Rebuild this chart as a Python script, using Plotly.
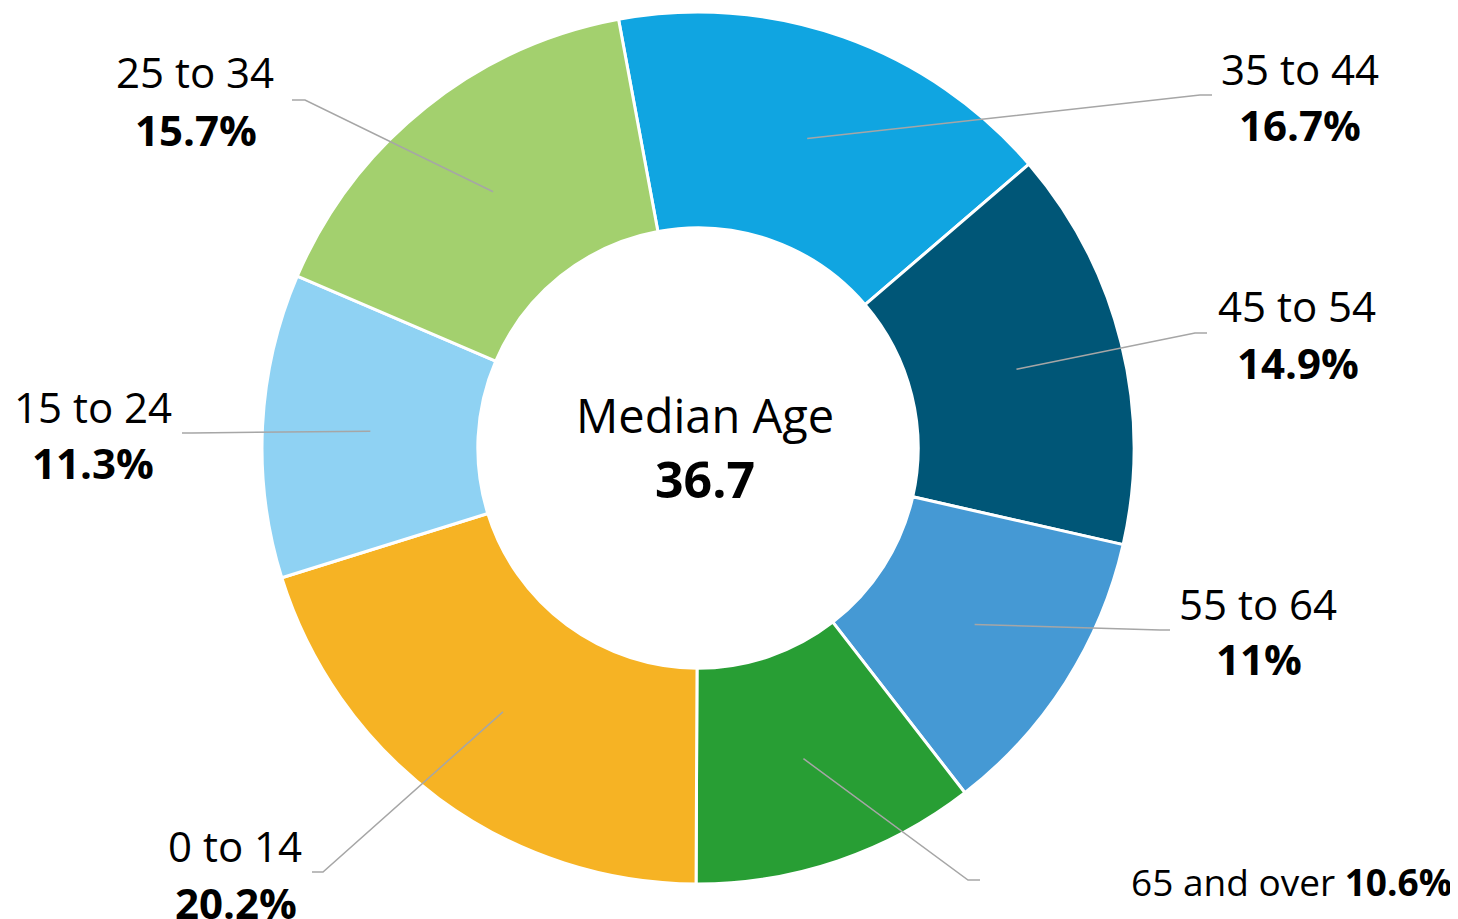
import math
import plotly.graph_objects as go

# ---------------- data ----------------
labels = ["35 to 44", "45 to 54", "55 to 64", "65 and over", "0 to 14", "15 to 24", "25 to 34"]
values = [16.7, 14.9, 11, 10.6, 20.2, 11.3, 15.7]
value_text = ["16.7%", "14.9%", "11%", "10.6%", "20.2%", "11.3%", "15.7%"]
center_title = "Median Age"
median_age = "36.7"

# ---------------- styling / layout ----------------
colors = ["#10A5E1", "#005677", "#4599D4", "#289E34", "#F6B324", "#8FD2F3", "#A3D06E"]
W, H = 1458, 919
OFF = 8                              # page body margin in the browser
CX, CY, R = 698, 448, 436          # donut centre and outer radius (screen px)
HOLE = 0.505
ROT = -10.5
FONT = "Open Sans"
LINE_COLOR = "#A6A6A6"
LABEL_SIZE = 42
SINGLE_SIZE = 37

# label placement in screen pixels: (name x, name y, value x, value y, elbow x, elbow y, end x, end y)
label_pos = [
    (1300, 68, 1300, 125, 1200, 95, 1212, 95),
    (1297, 305, 1298, 363, 1195, 333, 1207, 333),
    (1258, 603, 1259, 658, 1160, 630, 1170, 630),
    (1291, 881, None, None, 968, 880, 980, 880),
    (235, 845, 236, 902, 323, 872, 312, 872),
    (93, 407, 93, 462, 192, 433, 182, 433),
    (195, 72, 196, 129, 305, 100, 292, 100),
]


def fx(x):
    return (x - OFF) / W


def fy(y):
    return 1 - (y - OFF) / H


fig = go.Figure(
    go.Pie(
        labels=labels,
        values=values,
        sort=False,
        direction="clockwise",
        rotation=ROT,
        hole=HOLE,
        marker=dict(colors=colors, line=dict(color="white", width=3)),
        textinfo="none",
        hoverinfo="label+percent",
        domain=dict(x=[fx(CX - R), fx(CX + R)], y=[fy(CY + R), fy(CY - R)]),
    )
)

total = sum(values)
shapes = []
annotations = []
cum = 0.0
mid_r = R * (1 + HOLE) / 2
for i, (lab, val, vt) in enumerate(zip(labels, values, value_text)):
    mid = ROT + (cum + val / 2) / total * 360
    cum += val
    a = math.radians(mid)
    sx = CX + mid_r * math.sin(a)
    sy = CY - mid_r * math.cos(a)
    nx, ny, vx, vy, ex, ey, tx, ty = label_pos[i]
    shapes.append(
        dict(
            type="path",
            xref="paper",
            yref="paper",
            path=f"M {fx(sx)},{fy(sy)} L {fx(ex)},{fy(ey)} L {fx(tx)},{fy(ty)}",
            line=dict(color=LINE_COLOR, width=1.5),
            layer="above",
        )
    )
    if vx is None:
        annotations.append(
            dict(x=fx(nx), y=fy(ny), xref="paper", yref="paper", showarrow=False,
                 text=f"{lab} <b>{vt}</b>", font=dict(family=FONT, size=SINGLE_SIZE, color="black"),
                 xanchor="center", yanchor="middle")
        )
    else:
        annotations.append(
            dict(x=fx(nx), y=fy(ny), xref="paper", yref="paper", showarrow=False,
                 text=lab, font=dict(family=FONT, size=LABEL_SIZE, color="black"),
                 xanchor="center", yanchor="middle")
        )
        annotations.append(
            dict(x=fx(vx), y=fy(vy), xref="paper", yref="paper", showarrow=False,
                 text=f"<b>{vt}</b>", font=dict(family=FONT, size=LABEL_SIZE, color="black"),
                 xanchor="center", yanchor="middle")
        )

annotations.append(
    dict(x=fx(CX + 7), y=fy(415), xref="paper", yref="paper", showarrow=False,
         text=center_title, font=dict(family=FONT, size=47, color="black"),
         xanchor="center", yanchor="middle")
)
annotations.append(
    dict(x=fx(CX + 7), y=fy(479), xref="paper", yref="paper", showarrow=False,
         text=f"<b>{median_age}</b>", font=dict(family=FONT, size=50, color="black"),
         xanchor="center", yanchor="middle")
)

fig.update_layout(
    width=W,
    height=H,
    margin=dict(l=0, r=0, t=0, b=0),
    showlegend=False,
    paper_bgcolor="white",
    plot_bgcolor="white",
    shapes=shapes,
    annotations=annotations,
)

fig.write_html("out.html")
